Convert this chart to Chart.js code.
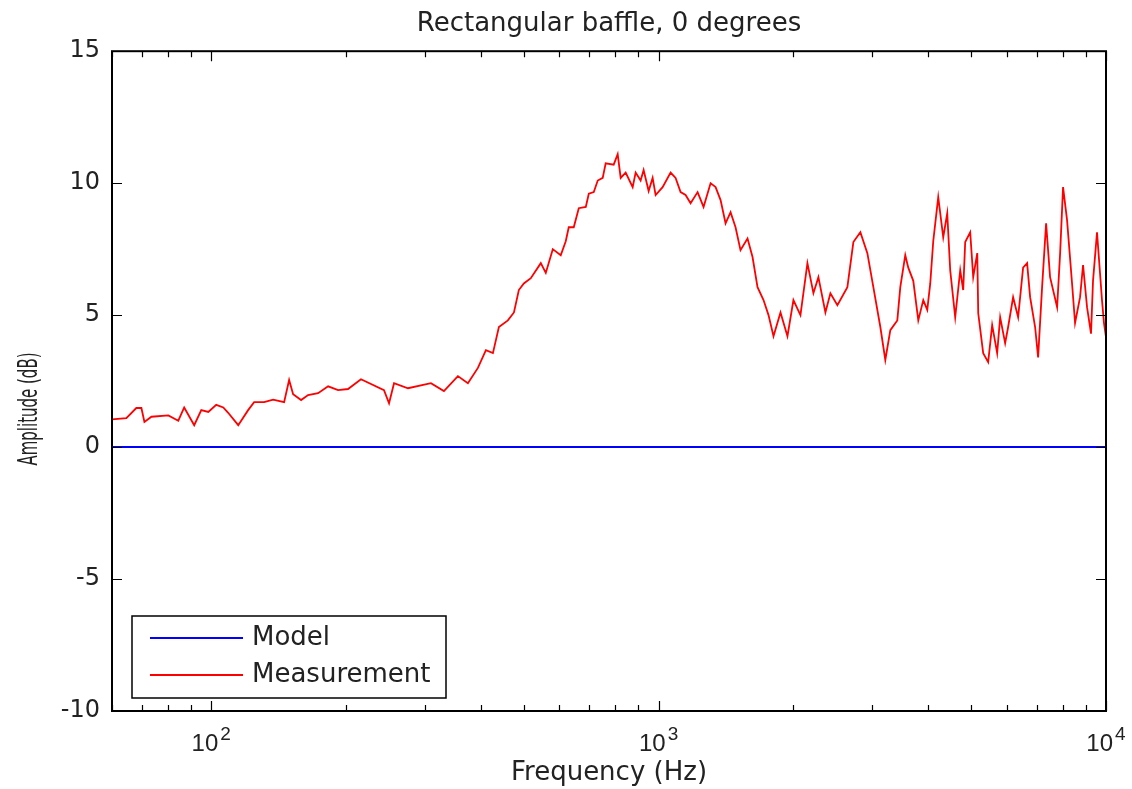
<!DOCTYPE html>
<html>
<head>
<meta charset="utf-8">
<title>Rectangular baffle, 0 degrees</title>
<script src="https://cdn.jsdelivr.net/npm/chart.js@4.4.1/dist/chart.umd.min.js"></script>
<style>
    html, body { margin: 0; padding: 0; background: #fff; }
    #baffle_canvas { display: block; }
</style>
</head>
<body>
<canvas id="baffle_canvas" width="1132" height="789"></canvas>
<script>
var freqHz = [
    60, 64.6, 68, 69.8, 70.9, 73.5, 80.2, 84.4, 87, 91.6,
    95, 98.5, 102.6, 106.4, 109.1, 114.9, 120.9, 124.7, 131.3, 137.5,
    145.5, 149.3, 152.4, 158.8, 164.6, 173.3, 182.5, 192.1, 202.2, 216.1,
    243.3, 249.7, 256.2, 275.3, 309.8, 331.2, 355.9, 374.7, 394.5, 411.1,
    426.2, 439.5, 460.3, 474.9, 487, 499.7, 518, 545.3, 559.5, 580,
    604.2, 620, 629.7, 646.1, 663, 687.4, 698.1, 716.2, 731, 749.9,
    761.5, 793.5, 810, 822.6, 844, 874.9, 888.5, 911.5, 925.7, 949.9,
    969.6, 984.7, 1020.7, 1063.6, 1091.3, 1119.7, 1148.9, 1178.7, 1222.1, 1260.2,
    1306.6, 1340.7, 1375.6, 1411.4, 1448.1, 1485.7, 1524.1, 1580.2, 1621.5, 1663.6,
    1715.8, 1760.4, 1806.2, 1872.4, 1940.9, 2001.3, 2074.9, 2150.8, 2218.2, 2275.8,
    2359.5, 2420.8, 2509.7, 2641.9, 2724.7, 2824.5, 2928, 3019.7, 3130.3, 3211.6,
    3295.4, 3415.9, 3469, 3559, 3614.3, 3708.7, 3805.5, 3904.5, 3985.4, 4047.2,
    4110, 4217, 4327, 4417, 4485, 4602, 4722, 4795, 4845, 4971,
    5049, 5155, 5181, 5315, 5453, 5566, 5711, 5800, 5951, 6043,
    6200, 6362, 6527, 6663, 6767, 6943, 7051, 7197, 7347, 7499,
    7776, 7897, 8017, 8184, 8397, 8528, 8750, 8886, 9070, 9258,
    9354, 9548, 9796, 9897, 10000
];
var measDb = [
    1.05, 1.1, 1.48, 1.48, 0.95, 1.15, 1.2, 1.0, 1.5, 0.83,
    1.4, 1.33, 1.6, 1.5, 1.3, 0.83, 1.4, 1.7, 1.7, 1.8,
    1.7, 2.54, 2.0, 1.78, 1.97, 2.04, 2.3, 2.16, 2.2, 2.57,
    2.16, 1.66, 2.42, 2.23, 2.42, 2.12, 2.69, 2.42, 3.0, 3.67,
    3.56, 4.55, 4.8, 5.1, 5.95, 6.2, 6.4, 6.97, 6.6, 7.5,
    7.27, 7.8, 8.33, 8.33, 9.05, 9.1, 9.6, 9.66, 10.1, 10.2,
    10.75, 10.7, 11.1, 10.2, 10.4, 9.85, 10.4, 10.1, 10.5, 9.7,
    10.2, 9.55, 9.85, 10.4, 10.2, 9.66, 9.55, 9.24, 9.66, 9.1,
    10.0, 9.85, 9.36, 8.48, 8.9, 8.33, 7.46, 7.9, 7.2, 6.06,
    5.57, 5.0, 4.2, 5.1, 4.2, 5.57, 5.0, 6.97, 5.83, 6.44,
    5.1, 5.83, 5.38, 6.06, 7.77, 8.14, 7.35, 6.06, 4.55, 3.3,
    4.43, 4.8, 6.06, 7.27, 6.8, 6.3, 4.8, 5.57, 5.2, 6.2,
    7.8, 9.47, 7.95, 8.86, 6.7, 4.92, 6.7, 5.95, 7.77, 8.14,
    6.44, 7.35, 5.07, 3.56, 3.22, 4.62, 3.56, 4.92, 3.94, 4.55,
    5.68, 4.92, 6.8, 6.97, 5.68, 4.55, 3.4, 6.06, 8.48, 6.44,
    5.3, 7.35, 9.85, 8.6, 6.2, 4.7, 5.68, 6.9, 5.3, 4.3,
    6.3, 8.14, 5.57, 4.7, 4.17
];
// model: flat 0 dB
var modelFreq = [60, 10000];
var modelDb = [0, 0];

var xTickValues = [100, 1000, 10000];
var xTickBase = '10';
var xTickPowers = ['2', '3', '4'];
var yTickValues = [-10, -5, 0, 5, 10, 15];
var yAxisLabel = 'Amplitude (dB)';

function toPoints(xs, ys) {
    return xs.map(function (x, i) { return { x: x, y: ys[i] }; });
}

// matlab style box with inward ticks (major + log minor)
var matlabBox = {
    id: 'matlabBox',
    afterDatasetsDraw: function (chart) {
        var ctx = chart.ctx, a = chart.chartArea;
        var xs = chart.scales.x, ys = chart.scales.y;
        ctx.save();
        ctx.strokeStyle = '#000';
        ctx.lineWidth = 1.2;
        ctx.beginPath();
        yTickValues.forEach(function (v) {
            var py = Math.round(ys.getPixelForValue(v)) + 0.5;
            ctx.moveTo(a.left, py); ctx.lineTo(a.left + 10, py);
            ctx.moveTo(a.right, py); ctx.lineTo(a.right - 10, py);
        });
        [10, 100, 1000, 10000].forEach(function (d) {
            for (var m = 1; m < 10; m++) {
                var v = d * m;
                if (v < xs.min || v > xs.max) continue;
                var len = m === 1 ? 10 : 6;
                var px = Math.round(xs.getPixelForValue(v)) + 0.5;
                ctx.moveTo(px, a.bottom); ctx.lineTo(px, a.bottom - len);
                ctx.moveTo(px, a.top); ctx.lineTo(px, a.top + len);
            }
        });
        ctx.stroke();
        ctx.lineWidth = 2;
        ctx.strokeRect(a.left, a.top, a.right - a.left, a.bottom - a.top);
        ctx.restore();
    }
};

// "10" with a real superscript exponent under each decade
var decadeLabels = {
    id: 'decadeLabels',
    afterDraw: function (chart) {
        var ctx = chart.ctx, xs = chart.scales.x, a = chart.chartArea;
        ctx.save();
        ctx.fillStyle = '#222';
        ctx.textBaseline = 'alphabetic';
        ctx.textAlign = 'left';
        xTickValues.forEach(function (v, i) {
            var px = xs.getPixelForValue(v);
            ctx.font = '24px "Liberation Sans"';
            var wb = ctx.measureText(xTickBase).width;
            ctx.font = '19px "Liberation Sans"';
            var we = ctx.measureText(xTickPowers[i]).width;
            var x0 = px - (wb + 2 + we) / 2;
            ctx.font = '24px "Liberation Sans"';
            ctx.fillText(xTickBase, x0, a.bottom + 40);
            ctx.font = '19px "Liberation Sans"';
            ctx.fillText(xTickPowers[i], x0 + wb + 2, a.bottom + 29);
        });
        ctx.restore();
    }
};

// legend box in the lower left corner of the plot
var boxLegend = {
    id: 'boxLegend',
    afterDraw: function (chart) {
        var ctx = chart.ctx, a = chart.chartArea;
        var x0 = a.left + 20, y0 = a.bottom - 95, w = 314, h = 82;
        ctx.save();
        ctx.fillStyle = '#fff';
        ctx.fillRect(x0, y0, w, h);
        ctx.strokeStyle = '#000';
        ctx.lineWidth = 1.5;
        ctx.strokeRect(x0, y0, w, h);
        ctx.font = '26px "DejaVu Sans"';
        ctx.textBaseline = 'middle';
        chart.data.datasets.forEach(function (ds, i) {
            var ly = y0 + 22 + i * 37;
            ctx.strokeStyle = ds.borderColor;
            ctx.lineWidth = 2;
            ctx.beginPath();
            ctx.moveTo(x0 + 18, ly);
            ctx.lineTo(x0 + 111, ly);
            ctx.stroke();
            ctx.fillStyle = '#222';
            ctx.fillText(ds.label, x0 + 120, ly);
        });
        ctx.restore();
    }
};

// y label: the source squeezes it along its length, so do the same
var yTitle = {
    id: 'yTitle',
    afterDraw: function (chart) {
        var ctx = chart.ctx;
        ctx.save();
        ctx.translate(30, 409);
        ctx.rotate(-Math.PI / 2);
        ctx.font = '27px "DejaVu Sans"';
        var w = ctx.measureText(yAxisLabel).width;
        ctx.scale(113 / w, 1);
        ctx.textAlign = 'center';
        ctx.textBaseline = 'middle';
        ctx.fillStyle = '#222';
        ctx.fillText(yAxisLabel, 0, 0);
        ctx.restore();
    }
};

var bigFont = { family: 'DejaVu Sans', size: 26, weight: 'normal' };

var ctr = document.getElementById('baffle_canvas');
var baffle = new Chart(ctr, {
    type: 'line',
    data: {
        datasets: [{
            label: 'Model',
            data: toPoints(modelFreq, modelDb),
            borderColor: '#0000ff',
            borderWidth: 2,
            pointRadius: 0,
            tension: 0
        }, {
            label: 'Measurement',
            data: toPoints(freqHz, measDb),
            borderColor: '#ff0000',
            borderWidth: 1.8,
            pointRadius: 0,
            tension: 0
        }]
    },
    options: {
        responsive: false,
        animation: false,
        layout: { padding: { right: 26 } },
        plugins: {
            legend: { display: false },
            tooltip: { enabled: false },
            title: {
                display: true,
                text: 'Rectangular baffle, 0 degrees',
                fullSize: false,
                color: '#222',
                font: bigFont,
                padding: { top: 9, bottom: 11 }
            }
        },
        scales: {
            x: {
                type: 'logarithmic',
                min: 60,
                max: 10000,
                grid: { display: false, drawTicks: false },
                border: { display: false },
                afterBuildTicks: function (s) {
                    s.ticks = xTickValues.map(function (v) { return { value: v }; });
                },
                afterFit: function (s) {
                    s.height = 78;
                    s.paddingLeft = 0;
                    s.paddingRight = 0;
                },
                ticks: { display: false },
                title: {
                    display: true,
                    text: 'Frequency (Hz)',
                    color: '#222',
                    font: bigFont,
                    padding: { top: 0, bottom: 0 }
                }
            },
            y: {
                min: -10,
                max: 15,
                grid: { display: false, drawTicks: false },
                border: { display: false },
                afterBuildTicks: function (s) {
                    s.ticks = yTickValues.map(function (v) { return { value: v }; });
                },
                afterFit: function (s) {
                    s.width = 112;
                    s.paddingTop = 0;
                    s.paddingBottom = 0;
                },
                ticks: {
                    padding: 12,
                    color: '#222',
                    font: { family: 'DejaVu Sans', size: 24, weight: 'normal' }
                }
            }
        }
    },
    plugins: [matlabBox, decadeLabels, boxLegend, yTitle]
});
</script>
</body>
</html>
